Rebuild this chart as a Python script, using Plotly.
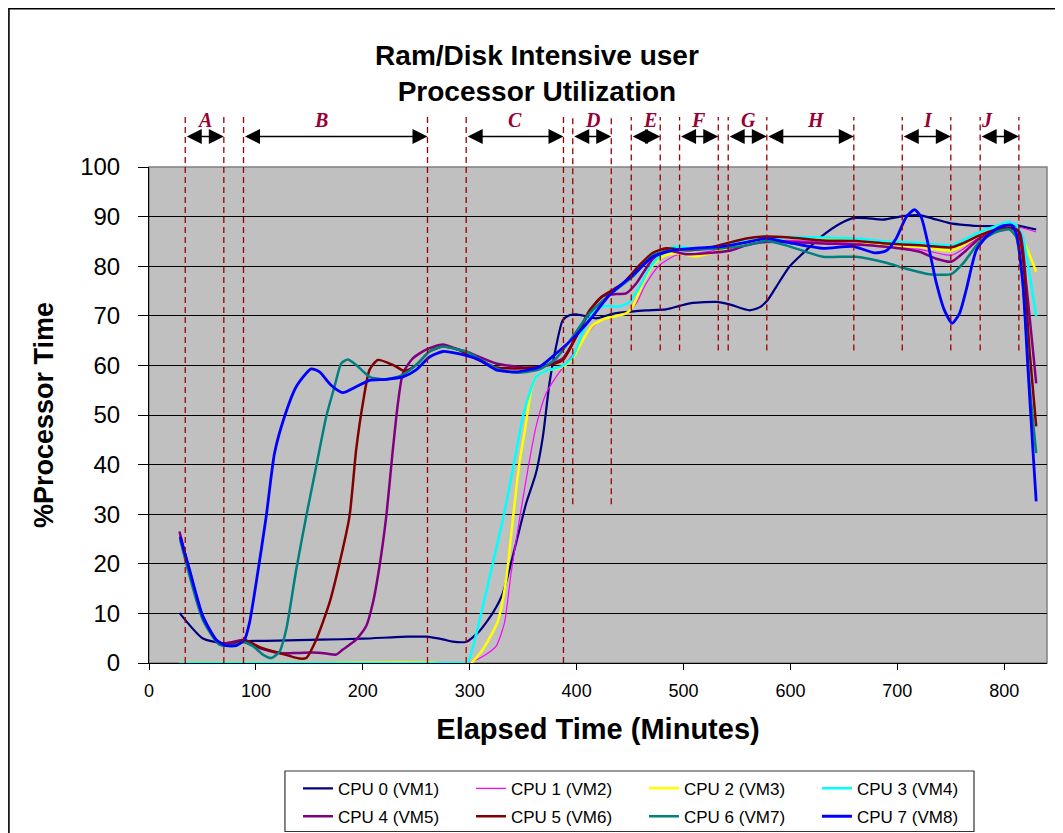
import plotly.graph_objects as go

# ---------------- data ----------------
series_names = ["CPU 0 (VM1)", "CPU 1 (VM2)", "CPU 2 (VM3)", "CPU 3 (VM4)",
                "CPU 4 (VM5)", "CPU 5 (VM6)", "CPU 6 (VM7)", "CPU 7 (VM8)"]
series_colors = ["#000080", "#FF00FF", "#FFFF00", "#00FFFF",
                 "#800080", "#800000", "#008080", "#0000FF"]
series_widths = [2.2, 1.2, 2.5, 2.5, 2.5, 2.5, 2.5, 2.8]

cpu0_x = [28.5, 50, 69, 88, 120, 160, 200, 241, 259, 276, 284, 297, 309, 321.6, 331, 343.4,
          352.8, 362, 368.4, 374.6, 380.8, 387, 393.3, 399.5, 408.9, 418.2, 433.8, 449.4, 465,
          483.7, 496.2, 508.7, 530.5, 543, 561.7, 571, 578.8, 586.6, 599, 614.7, 630.3, 645.9,
          658.4, 670.9, 686.4, 705.2, 720.7, 733.2, 748.8, 764.4, 776.9, 792.5, 808.1, 829.9]
cpu0_y = [10.1, 5.0, 4.0, 4.4, 4.5, 4.7, 4.9, 5.3, 5.3, 4.7, 4.3, 4.3, 6.4, 10.1, 14.1, 24.2,
          32.2, 38.3, 45.6, 56.4, 63.8, 69.1, 70.1, 70.3, 69.9, 69.5, 70.4, 70.8, 71.1,
          71.3, 72.0, 72.6, 72.8, 72.3, 71.1, 71.7, 73.2, 75.8, 79.9, 83.2, 86.2, 88.5,
          89.7, 89.7, 89.4, 90.1, 90.3, 89.6, 88.7, 88.3, 88.1, 88.1, 88.3, 87.4]

cpu1_x = [28.5, 150, 270, 280, 290, 297, 299.8, 312.2, 324.7, 332.5, 338.7, 346.5, 354.3, 362.1,
          371.5, 380.8, 390.2, 399.6, 408.9, 421.4, 433.8, 446.3, 455.7, 465, 477.5, 493.1,
          511.8, 530.5, 552.3, 571.1, 599.1, 630.3, 661.5, 689.6, 720.7, 750.4, 761.3, 776.9,
          792.5, 804.9, 814.3, 829.9]
cpu1_y = [0, 0, 0, -0.5, -0.5, -0.3, 0, 1.3, 3.4, 8.1, 18.1, 28.9, 38.9, 47.7,
          54.4, 57.7, 60.4, 63.1, 66.1, 69.1, 69.9, 70.3, 72.5, 76.5, 80.2, 82.2,
          82.6, 83.2, 84.0, 84.9, 85.2, 84.9, 84.6, 83.9, 83.4, 82.2, 83.4, 85.9,
          86.9, 87.4, 87.8, 86.9]

cpu2_x = [28.5, 150, 270, 280, 290, 299.8, 312.2, 326.3, 334.1, 340.3, 346.5, 352.2, 357.5, 362.1,
          371.5, 387, 396.4, 405.8, 415.1, 427.6, 446.3, 452.5, 461.9, 471.3, 480.6, 493.1,
          511.8, 530.5, 546.1, 564.8, 577.3, 599.1, 630.3, 661.5, 689.6, 720.7, 750.4, 761.3,
          776.9, 792.5, 804.9, 812.7, 820.5, 829.9]
cpu2_y = [0, 0, 0, -0.6, -0.6, -0.3, 2.7, 8.4, 16.8, 28.9, 40.3, 47.7, 55.0, 57.7,
          58.9, 59.7, 61.4, 65.1, 68.1, 69.5, 70.5, 71.8, 76.5, 80.2, 82.0, 82.6,
          82.0, 82.9, 84.0, 84.9, 85.6, 85.8, 85.5, 85.1, 84.4, 83.9, 83.2, 84.2,
          86.2, 87.2, 87.9, 87.2, 83.9, 78.9]

cpu3_x = [28.5, 100, 200, 270, 285, 293, 298, 312.2, 321.6, 331, 340.3, 349.7, 356, 362.1, 371.5,
          387, 396.4, 405.8, 415.1, 424.5, 440, 449.4, 458.8, 468.1, 477.5, 490, 508.7, 527.4,
          546.1, 564.8, 577.3, 599.1, 630.3, 661.5, 689.6, 720.7, 750.4, 761.3, 776.9, 792.5,
          803.4, 811.2, 817.4, 823.6, 829.9]
cpu3_y = [0, 0, 0, 0, 0, 0, 0, 11.4, 20.1, 28.9, 38.9, 49.7, 54.4, 57.7, 58.9,
          59.9, 61.7, 66.8, 70.5, 71.9, 71.9, 72.8, 75.8, 79.5, 82.0, 83.9, 83.6, 83.6,
          84.6, 85.2, 85.4, 85.9, 85.8, 85.6, 85.0, 84.7, 84.2, 85.2, 86.9, 88.1,
          88.9, 88.3, 85.9, 78.5, 69.8]

cpu4_x = [28.5, 50.4, 66, 89.3, 103.4, 122.1, 134.5, 153.3, 165.8, 175.1, 181.3, 193.8, 203.1,
          209.4, 215.6, 221.9, 228.1, 232.8, 237.5, 246.8, 259.3, 274.9, 290.5, 296.6, 324.7,
          349.7, 365.2, 387, 399.6, 415.1, 424.5, 437, 446.3, 455.7, 471.3, 483.7, 502.4,
          521.1, 543, 558.6, 577.3, 599.1, 630.3, 661.5, 689.6, 720.7, 736.3, 750.4, 761.3,
          776.9, 792.5, 804.9, 814.3, 820.5, 829.9]
cpu4_y = [26.5, 9.4, 3.9, 4.7, 3.0, 2.0, 2.0, 2.1, 1.9, 1.7, 2.7, 4.7, 7.4,
          12.1, 19.5, 29.5, 43.0, 52.3, 58.4, 61.4, 63.2, 64.2, 63.1, 62.8, 60.4,
          59.6, 59.7, 61.4, 65.8, 71.8, 74.0, 74.4, 74.5, 76.5, 81.5, 83.2, 82.4,
          82.6, 83.1, 84.2, 84.9, 84.9, 84.6, 84.4, 83.9, 82.9, 81.5, 80.9, 82.6,
          85.6, 87.1, 87.6, 86.9, 76.5, 56.4]

cpu5_x = [29.2, 50.4, 66, 78.4, 89.3, 103.4, 122.1, 140.8, 147, 156.4, 168.8, 178.2, 187.5,
          193.8, 200, 206.3, 214.1, 228.1, 239, 249.9, 262.4, 274.9, 290.5, 296.6, 324.7,
          343.4, 365.2, 387, 399.6, 412, 424.5, 443.2, 458.8, 471.3, 483.7, 502.4, 521.1,
          539.9, 558.6, 577.3, 599.1, 630.3, 661.5, 689.6, 720.7, 750.4, 761.3, 776.9, 792.5,
          804.9, 812.7, 817.4, 823.6, 829.9]
cpu5_y = [25.5, 9.1, 3.9, 3.7, 4.6, 3.2, 2.0, 0.9, 1.0, 4.7, 12.1, 20.1, 29.5,
          43.0, 52.3, 59.1, 61.1, 60.1, 58.9, 60.1, 62.8, 63.8, 63.1, 62.3, 59.6,
          59.4, 59.7, 61.1, 65.8, 71.1, 74.0, 76.5, 80.2, 82.7, 83.6, 83.2, 83.6,
          84.6, 85.6, 86.0, 85.8, 85.2, 85.1, 84.6, 84.2, 83.8, 84.6, 86.2, 87.4,
          87.8, 87.2, 81.9, 63.1, 47.7]

cpu6_x = [29.2, 50.4, 66, 78.4, 87.8, 97.2, 106.5, 114.3, 122.1, 128.3, 137.7, 147, 156.4,
          165.8, 173.5, 179.8, 186, 193.8, 206.3, 221.9, 237.5, 250, 262.4, 274.9, 290.5,
          296.6, 324.7, 343.4, 365.2, 380.8, 396.4, 412, 430.7, 452.5, 471.3, 490, 514.9,
          536.7, 558.6, 577.3, 596, 614.7, 630.3, 661.5, 689.6, 708.3, 730.1, 750.4, 761.3,
          776.9, 792.5, 804.9, 811.2, 817.4, 823.6, 829.9]
cpu6_y = [24.8, 8.7, 3.7, 3.5, 4.2, 3.4, 1.7, 1.0, 2.3, 6.7, 18.8, 29.5, 39.6,
          49.7, 55.7, 60.4, 61.2, 60.1, 57.7, 57.2, 58.1, 60.1, 62.8, 63.8, 63.1,
          62.8, 59.4, 58.5, 59.2, 61.4, 65.8, 70.5, 74.2, 77.9, 82.2, 83.2, 83.4,
          83.6, 84.2, 85.1, 84.2, 82.9, 81.9, 81.9, 80.7, 79.5, 78.4, 78.4, 80.5,
          84.9, 86.9, 87.4, 85.9, 76.5, 56.4, 42.3]

cpu7_x = [29.2, 37.9, 50.4, 62.8, 72.2, 81.5, 89.3, 94, 100.2, 109.6, 117.4, 126.8, 137.7,
          151.7, 159.5, 170.4, 181.3, 193.8, 206.3, 221.9, 237.5, 249.9, 262.4, 274.9, 290.5,
          309.2, 324.7, 343.4, 365.2, 380.8, 396.4, 412, 430.7, 452.5, 471.3, 490, 514.9,
          536.7, 558.6, 577.3, 602.2, 630.3, 658.4, 678.7, 689.6, 698.9, 708.3, 716.1, 722.3,
          728.6, 736.3, 744.1, 751.3, 758.2, 764.4, 773.8, 783.1, 795.6, 806.5, 811.2, 817.4,
          822.1, 826.8, 829.9]
cpu7_y = [25.4, 18.8, 9.4, 4.7, 3.5, 3.5, 4.7, 8.1, 16.1, 29.5, 42.3, 49.7, 55.7,
          59.3, 58.7, 56.0, 54.5, 55.7, 57.0, 57.2, 57.7, 59.1, 61.7, 62.8, 62.3,
          61.1, 59.1, 58.7, 59.7, 62.4, 65.4, 69.1, 74.2, 78.2, 81.9, 83.2, 83.7,
          84.0, 84.8, 85.6, 84.6, 83.6, 84.0, 82.7, 83.1, 85.6, 89.9, 91.4, 89.9,
          84.6, 76.8, 71.1, 68.5, 70.5, 75.2, 83.2, 85.9, 87.9, 88.3, 86.6, 76.5,
          59.7, 43.0, 32.6]

series_x = [cpu0_x, cpu1_x, cpu2_x, cpu3_x, cpu4_x, cpu5_x, cpu6_x, cpu7_x]
series_y = [cpu0_y, cpu1_y, cpu2_y, cpu3_y, cpu4_y, cpu5_y, cpu6_y, cpu7_y]

# phase markers (minutes)
phase_labels = ["A", "B", "C", "D", "E", "F", "G", "H", "I", "J"]
phase_start = [33.9, 88.4, 296.7, 396.4, 451.1, 496.3, 541.8, 577.9, 704.6, 777.5]
phase_end = [70.0, 260.5, 387.7, 432.4, 478.2, 532.5, 577.9, 659.3, 750.0, 813.7]
phase_label_x = [52, 161.2, 341.9, 415.2, 468.2, 514.3, 560.8, 624.1, 728.5, 784.1]
marker_x = [33.9, 70.0, 88.4, 260.5, 296.7, 387.7, 396.4, 432.4, 451.1, 478.2,
            496.3, 532.5, 541.8, 577.9, 659.3, 704.6, 750.0, 777.5, 813.7]
marker_bottom = [0, 0, 0, 0, 0, 0, 32, 32, 63, 63, 63, 63, 63, 63, 63, 63, 63, 63, 63]

# ---------------- figure ----------------
SANS = "Liberation Sans, Arial, sans-serif"
fig = go.Figure()
for i in range(8):
    fig.add_trace(go.Scatter(
        x=series_x[i], y=series_y[i], name=series_names[i], mode="lines",
        line=dict(color=series_colors[i], width=series_widths[i], shape="spline", smoothing=0.6),
        legend="legend" if i < 4 else "legend2",
    ))

shapes = []
# vertical dashed phase markers
for mx, mb in zip(marker_x, marker_bottom):
    shapes.append(dict(type="line", xref="x", yref="paper", x0=mx, x1=mx,
                       y0=mb / 100.0, y1=1.101,
                       line=dict(color="#990000", width=1.3, dash="6px,4px"), layer="above"))
# plot area border (grey)
shapes.append(dict(type="rect", xref="paper", yref="paper", x0=0, x1=1, y0=0, y1=1,
                   line=dict(color="#808080", width=1.5), layer="below"))
# outer chart frame
shapes.append(dict(type="rect", xref="paper", yref="paper", x0=-0.1560, x1=1.05, y0=-0.40, y1=1.3190,
                   line=dict(color="black", width=1.6)))
# legend box
shapes.append(dict(type="rect", xref="paper", yref="paper", x0=0.1514, x1=0.9187, y0=-0.3397, y1=-0.2177,
                   line=dict(color="#333333", width=1.2), fillcolor="rgba(0,0,0,0)"))

annotations = []
for lab, xs, xe, lx in zip(phase_labels, phase_start, phase_end, phase_label_x):
    annotations.append(dict(x=xe, y=1.0617, xref="x", yref="paper",
                            ax=xs, ay=0, axref="x", ayref="pixel",
                            text="", showarrow=True, arrowside="end+start",
                            arrowhead=2, startarrowhead=2, arrowsize=2.0, startarrowsize=2.0,
                            arrowwidth=1.5, arrowcolor="black", standoff=0, startstandoff=0))
    annotations.append(dict(x=lx, y=1.0954, xref="x", yref="paper", text="<b><i>%s</i></b>" % lab,
                            showarrow=False, xanchor="center", yanchor="middle",
                            font=dict(family="Liberation Serif, Times New Roman, serif", size=20,
                                      color="#990033")))

legend_common = dict(orientation="h", xanchor="left", yanchor="top", entrywidth=128,
                     entrywidthmode="pixels", bgcolor="rgba(0,0,0,0)", borderwidth=0,
                     font=dict(family=SANS, size=17, color="black"), itemwidth=30,
                     tracegroupgap=0)

fig.update_layout(
    width=1063, height=833,
    margin=dict(l=141, r=24, t=159, b=178, autoexpand=False),
    paper_bgcolor="white", plot_bgcolor="#C0C0C0",
    title=dict(text="Ram/Disk Intensive user<br>Processor Utilization",
               x=0.4976, xref="container", xanchor="center",
               y=0.9316, yref="container", yanchor="middle",
               font=dict(family=SANS, size=28, color="black", weight="bold")),
    xaxis=dict(range=[0, 840], dtick=100, tick0=0, showgrid=False, zeroline=False,
               showline=True, linecolor="black", linewidth=1,
               ticks="outside", ticklen=6, tickcolor="black", ticklabelstandoff=5,
               tickfont=dict(family=SANS, size=18, color="black"),
               title=dict(text="Elapsed Time (Minutes)", standoff=19,
                          font=dict(family=SANS, size=29, color="black", weight="bold"))),
    yaxis=dict(range=[0, 100], dtick=10, tick0=0, showgrid=True, gridcolor="black", gridwidth=1,
               zeroline=False, showline=True, linecolor="black", linewidth=1,
               ticks="outside", ticklen=10, tickcolor="black", ticklabelstandoff=13,
               tickfont=dict(family=SANS, size=24, color="black"),
               title=dict(text="%Processor Time", standoff=18,
                          font=dict(family=SANS, size=27, color="black", weight="bold"))),
    legend=dict(x=0.1659, y=-0.2172, **legend_common),
    legend2=dict(x=0.1659, y=-0.2736, **legend_common),
    shapes=shapes,
    annotations=annotations,
    showlegend=True,
)

fig.write_html("out.html")
